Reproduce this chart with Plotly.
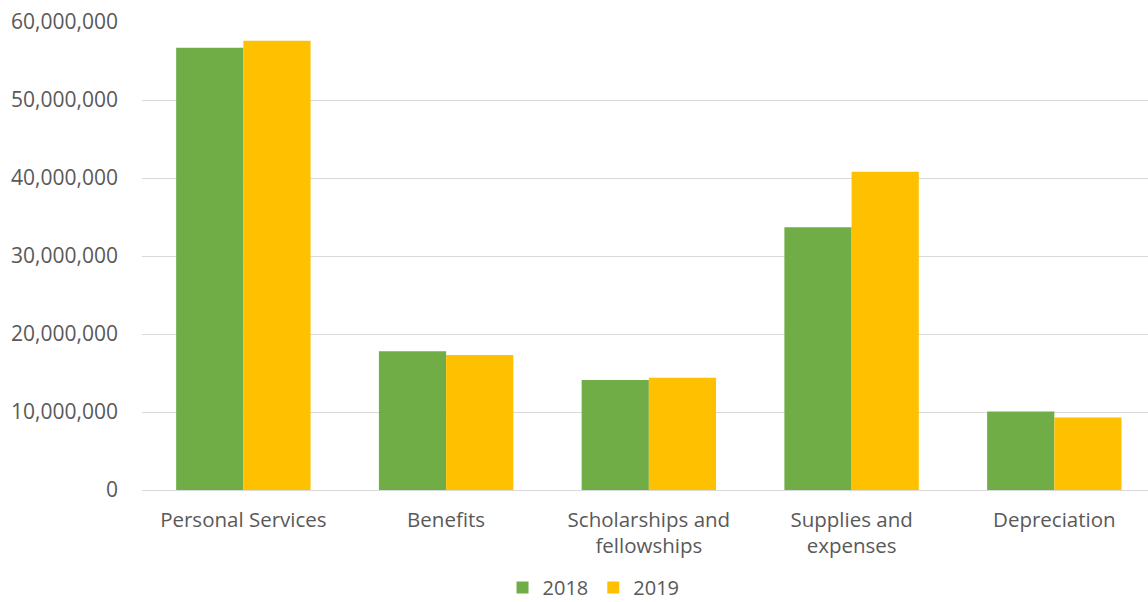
import plotly.graph_objects as go

categories = ["Personal Services", "Benefits", "Scholarships and<br>fellowships",
              "Supplies and<br>expenses", "Depreciation"]
values_2018 = [56700000, 17800000, 14100000, 33700000, 10050000]
values_2019 = [57600000, 17300000, 14400000, 40800000, 9280000]
y_ticks = [0, 10000000, 20000000, 30000000, 40000000, 50000000, 60000000]

font_family = "Open Sans, Liberation Sans, sans-serif"
grey = "#595959"

fig = go.Figure()
fig.add_trace(go.Bar(name="2018", x=categories, y=values_2018,
                     marker=dict(color="#70AD47", line=dict(width=0))))
fig.add_trace(go.Bar(name="2019", x=categories, y=values_2019,
                     marker=dict(color="#FFC000", line=dict(width=0))))

fig.update_layout(
    width=1148, height=602,
    margin=dict(l=142, r=0, t=22, b=112, autoexpand=False),
    paper_bgcolor="white", plot_bgcolor="white",
    barmode="group", bargap=0.337, bargroupgap=0,
    font=dict(family=font_family, size=21, color=grey),
    showlegend=True,
    legend=dict(orientation="h", x=0.517, xref="container", xanchor="center",
                y=0.024, yref="container", yanchor="middle",
                font=dict(size=20, color=grey), itemwidth=30,
                traceorder="normal", borderwidth=0, bgcolor="rgba(0,0,0,0)"),
    xaxis=dict(type="category", range=[-0.5, 4.462], showgrid=False,
               showline=True, linecolor="#d9d9d9", linewidth=1,
               ticks="", tickfont=dict(size=20.5, color=grey),
               ticklabelstandoff=11),
    yaxis=dict(range=[0, 60000000], tickvals=y_ticks, tickformat=",d",
               showgrid=True, gridcolor="#d9d9d9", gridwidth=1,
               zeroline=True, zerolinecolor="#d9d9d9", zerolinewidth=1,
               showline=False, ticks="", tickfont=dict(size=21, color=grey),
               ticklabelstandoff=23),
)

fig.write_html("out.html")
